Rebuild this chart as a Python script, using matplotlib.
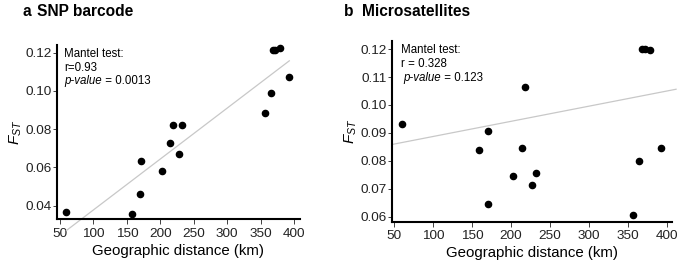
import matplotlib.pyplot as plt

plt.rcParams['font.family'] = ['Liberation Sans', 'DejaVu Sans']
plt.rcParams['mathtext.fontset'] = 'custom'
plt.rcParams['mathtext.rm'] = 'Liberation Sans'
plt.rcParams['mathtext.it'] = 'Liberation Sans:italic'

# distances shared by both panels (km)
distance = [59.5, 158.2, 170, 171, 202, 214, 218.5, 227.5, 232,
            356.7, 365, 368.6, 372, 378.6, 393]
fst_snp = [0.0365, 0.0358, 0.0460, 0.0635, 0.0583, 0.0728, 0.0820, 0.0669, 0.0820,
           0.0885, 0.0988, 0.1213, 0.1216, 0.1223, 0.1073]
fst_msat = [0.0932, 0.0838, 0.0645, 0.0907, 0.0745, 0.0846, 0.1064, 0.0713, 0.0756,
            0.0607, 0.0801, 0.1201, 0.1201, 0.1196, 0.0847]

# fitted lines: slope, intercept, x range
fit_snp = (0.000266, 0.0112, 59.5, 393)
fit_msat = (0.0000542, 0.0833, 47.4, 412)

xticks = [50, 100, 150, 200, 250, 300, 350, 400]
yticks_snp = [0.04, 0.06, 0.08, 0.10, 0.12]
yticks_msat = [0.06, 0.07, 0.08, 0.09, 0.10, 0.11, 0.12]

W, H = 685, 271


def px_axes(fig, x0, x1, ytop, ybot):
    return fig.add_axes([x0 / W, (H - ybot) / H, (x1 - x0) / W, (ybot - ytop) / H])


def draw_panel(ax, y, fit, yticks, ylim, xlim, stats):
    ax.scatter(distance, y, s=20, color='black', zorder=3, clip_on=False)
    slope, icpt, xa, xb = fit
    ax.plot([xa, xb], [icpt + slope * xa, icpt + slope * xb], color='#c8c8c8',
            lw=0.9, zorder=2, clip_on=False)
    ax.set_xlim(*xlim)
    ax.set_ylim(*ylim)
    ax.set_xticks(xticks)
    ax.set_yticks(yticks)
    ax.set_yticklabels(['%.2f' % v for v in yticks])
    for s in ['top', 'right']:
        ax.spines[s].set_visible(False)
    for s in ['left', 'bottom']:
        ax.spines[s].set_linewidth(1.5)
    ax.tick_params(width=0.6, labelsize=9.7, colors='#222222')
    ax.tick_params(axis='x', length=3.5, pad=2.5)
    ax.tick_params(axis='y', length=3, pad=1)
    ax.set_xlabel('Geographic distance (km)', fontsize=10.8, labelpad=3)
    ax.set_ylabel('$F_{ST}$', fontsize=11, labelpad=1)
    r_txt, p_txt, indent = stats
    ax.text(0.03, 0.985, 'Mantel test:\n' + r_txt, transform=ax.transAxes,
            fontsize=8.3, va='top', ha='left', linespacing=1.25)
    t = ax.text(0.03 + indent, 0.985 - 0.155, 'p-value', transform=ax.transAxes,
                fontsize=8.3, va='top', ha='left', style='italic')
    ax.annotate(' = ' + p_txt, xy=(1, 0), xycoords=t, va='bottom', ha='left',
                fontsize=8.3)
    return ax


fig = plt.figure(figsize=(W / 100, H / 100), dpi=100)

ax1 = px_axes(fig, 57, 300, 45, 219.3)
draw_panel(ax1, fst_snp, fit_snp, yticks_snp, (0.0329, 0.124), (45.5, 409),
           ('r=0.93', '0.0013', 0.0))
ax2 = px_axes(fig, 392.3, 671.7, 41, 221.7)
draw_panel(ax2, fst_msat, fit_msat, yticks_msat, (0.0582, 0.1229), (47.4, 406.4),
           ('r = 0.328', '0.123', 0.008))

fig.text(22.5 / W, 1 - 15.5 / H, 'a', fontsize=11.2, fontweight='bold', va='baseline')
fig.text(37.3 / W, 1 - 15.5 / H, 'SNP barcode', fontsize=11.2, fontweight='bold', va='baseline')
fig.text(344 / W, 1 - 15.5 / H, 'b', fontsize=11.2, fontweight='bold', va='baseline')
fig.text(361.7 / W, 1 - 15.5 / H, 'Microsatellites', fontsize=11.2, fontweight='bold', va='baseline')

fig.savefig('out.png', dpi=100)
